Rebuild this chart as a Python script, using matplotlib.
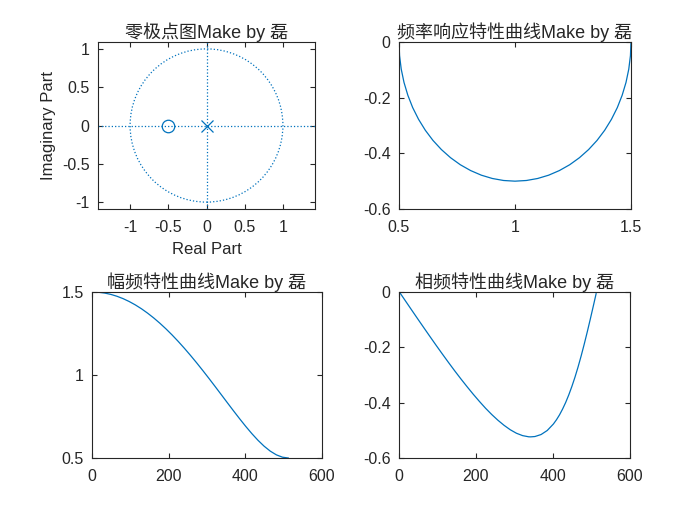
import matplotlib
matplotlib.use("Agg")
import matplotlib.pyplot as plt
from matplotlib.patches import Circle

plt.rcParams['font.family'] = ['Liberation Sans', 'Noto Sans CJK SC', 'DejaVu Sans']
plt.rcParams['axes.unicode_minus'] = False

line_color = '#0072BD'
dark = '#262626'

# zero/pole locations
zeros_re = [-0.5]
zeros_im = [0.0]
poles_re = [0.0]
poles_im = [0.0]

# frequency response H(e^jw) traced in the complex plane (real vs imag)
h_re = [1.5, 1.4976, 1.4904, 1.4785, 1.4619, 1.4410, 1.4157, 1.3865, 1.3536,
        1.3172, 1.2778, 1.2357, 1.1913, 1.1451, 1.0975, 1.0490, 1.0,
        0.9510, 0.9025, 0.8549, 0.8087, 0.7643, 0.7222, 0.6828, 0.6464,
        0.6135, 0.5843, 0.5590, 0.5381, 0.5215, 0.5096, 0.5024, 0.5000]
h_im = [0.0, -0.0490, -0.0975, -0.1451, -0.1913, -0.2357, -0.2778, -0.3172,
        -0.3536, -0.3865, -0.4157, -0.4410, -0.4619, -0.4785, -0.4904,
        -0.4976, -0.5, -0.4976, -0.4904, -0.4785, -0.4619, -0.4410, -0.4157,
        -0.3865, -0.3536, -0.3172, -0.2778, -0.2357, -0.1913, -0.1451,
        -0.0975, -0.0490, 0.0]

# magnitude response vs sample index
mag_x = [1, 17, 33, 49, 65, 81, 97, 113, 129, 145, 161, 177, 193, 209, 225,
         241, 257, 273, 289, 305, 321, 337, 353, 369, 385, 401, 417, 433,
         449, 465, 481, 497, 512]
mag_y = [1.5, 1.4984, 1.4936, 1.4856, 1.4744, 1.4601, 1.4427, 1.4223, 1.3990,
         1.3727, 1.3437, 1.3120, 1.2778, 1.2411, 1.2021, 1.1610, 1.1180,
         1.0733, 1.0271, 0.9797, 0.9313, 0.8824, 0.8333, 0.7846, 0.7368,
         0.6906, 0.6469, 0.6067, 0.5711, 0.5414, 0.5189, 0.5048, 0.5000]

# phase response vs sample index
ph_x = [1, 17, 33, 49, 65, 81, 97, 113, 129, 145, 161, 177, 193, 209, 225,
        241, 257, 273, 289, 305, 321, 337, 342, 353, 369, 385, 401, 409, 417,
        425, 433, 441, 449, 457, 465, 473, 481, 489, 497, 505, 512]
ph_y = [0.0, -0.0327, -0.0654, -0.0979, -0.1301, -0.1621, -0.1938, -0.2249,
        -0.2555, -0.2855, -0.3145, -0.3426, -0.3698, -0.3957, -0.4204,
        -0.4430, -0.4636, -0.4820, -0.4979, -0.5105, -0.5191, -0.5234,
        -0.5236, -0.5224, -0.5152, -0.5006, -0.4772, -0.4618, -0.4439,
        -0.4228, -0.3990, -0.3718, -0.3415, -0.3082, -0.2715, -0.2317,
        -0.1891, -0.1442, -0.0972, -0.0490, -0.0061]

fig = plt.figure(figsize=(7, 5.25), dpi=100)
W, H = 700, 525


def add_axes(x0, y0, x1, y1):
    ax = fig.add_axes([x0 / W, 1 - y1 / H, (x1 - x0) / W, (y1 - y0) / H])
    ax.tick_params(direction='in', top=True, right=True, length=3.5,
                   labelsize=11.5, colors=dark)
    ax.tick_params(axis='x', pad=8)
    ax.tick_params(axis='y', pad=6)
    for s in ax.spines.values():
        s.set_color(dark)
        s.set_linewidth(0.8)
    return ax


def title(ax, text):
    ax.set_title(text, fontsize=13, color=dark, pad=3)


# zero-pole plot
ax1 = add_axes(98, 42, 315, 209)
ax1.add_patch(Circle((0, 0), 1, fill=False, ls=':', color=line_color, lw=0.9))
ax1.axhline(0, ls=':', color=line_color, lw=0.9)
ax1.axvline(0, ls=':', color=line_color, lw=0.9)
ax1.plot(zeros_re, zeros_im, 'o', mfc='none', mec=line_color, ms=9, mew=0.9)
ax1.plot(poles_re, poles_im, 'x', color=line_color, ms=9, mew=0.9)
ax1.set_xlim(-1.42, 1.42)
ax1.set_ylim(-1.09, 1.09)
ax1.set_xticks([-1, -0.5, 0, 0.5, 1])
ax1.set_xticklabels(['-1', '-0.5', '0', '0.5', '1'])
ax1.set_yticks([-1, -0.5, 0, 0.5, 1])
ax1.set_yticklabels(['-1', '-0.5', '0', '0.5', '1'])
ax1.set_xlabel('Real Part', fontsize=12, color=dark, labelpad=5)
ax1.set_ylabel('Imaginary Part', fontsize=12, color=dark, labelpad=4)
title(ax1, '零极点图Make by 磊')

# frequency response curve
ax2 = add_axes(399, 42, 631, 209)
ax2.plot(h_re, h_im, color=line_color, lw=0.9)
ax2.set_xlim(0.5, 1.5)
ax2.set_ylim(-0.6, 0)
ax2.set_xticks([0.5, 1, 1.5])
ax2.set_xticklabels(['0.5', '1', '1.5'])
ax2.set_yticks([-0.6, -0.4, -0.2, 0])
ax2.set_yticklabels(['-0.6', '-0.4', '-0.2', '0'])
title(ax2, '频率响应特性曲线Make by 磊')

# magnitude
ax3 = add_axes(92, 292, 322, 458)
ax3.plot(mag_x, mag_y, color=line_color, lw=0.9)
ax3.set_xlim(0, 600)
ax3.set_ylim(0.5, 1.5)
ax3.set_xticks([0, 200, 400, 600])
ax3.set_yticks([0.5, 1, 1.5])
ax3.set_yticklabels(['0.5', '1', '1.5'])
title(ax3, '幅频特性曲线Make by 磊')

# phase
ax4 = add_axes(399, 292, 630, 458)
ax4.plot(ph_x, ph_y, color=line_color, lw=0.9)
ax4.set_xlim(0, 600)
ax4.set_ylim(-0.6, 0)
ax4.set_xticks([0, 200, 400, 600])
ax4.set_yticks([-0.6, -0.4, -0.2, 0])
ax4.set_yticklabels(['-0.6', '-0.4', '-0.2', '0'])
title(ax4, '相频特性曲线Make by 磊')

fig.savefig('out.png', dpi=100)
